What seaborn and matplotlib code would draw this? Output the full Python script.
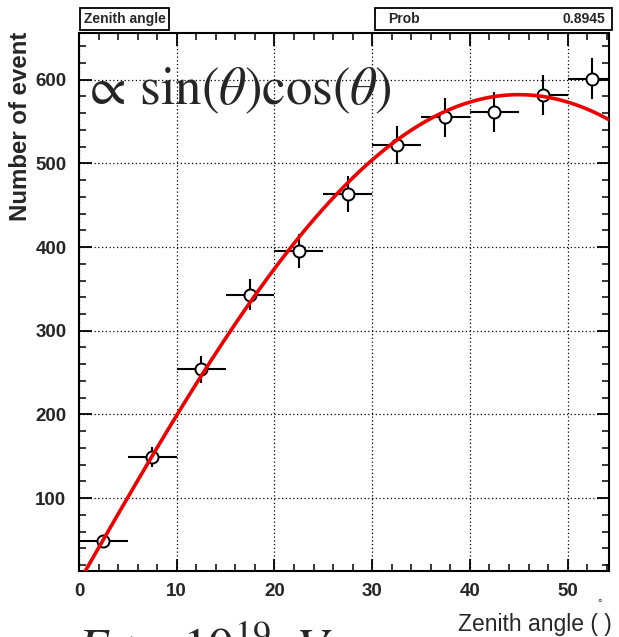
import numpy as np
import pandas as pd
import matplotlib
matplotlib.use("Agg")
import matplotlib.pyplot as plt
import seaborn as sns
from matplotlib.ticker import MultipleLocator
from matplotlib.patches import Rectangle

# ---- data ----
bin_centers = [2.5, 7.5, 12.5, 17.5, 22.5, 27.5, 32.5, 37.5, 42.5, 47.5, 52.5]
counts = [49, 149, 254, 343, 395, 463, 522, 555, 561, 582, 601]
count_errors = [7, 12, 16, 18.5, 20, 21.5, 23, 23.5, 23.7, 24, 24.5]
bin_half_width = [2.5] * 11
fit_amplitude = 582.0  # peak of A*sin(theta)cos(theta) fit
prob_value = "0.8945"
x_limits = (0, 54.2)
y_limits = (13, 656)
x_major_ticks = [0, 10, 20, 30, 40, 50]
y_major_ticks = [100, 200, 300, 400, 500, 600]

df = pd.DataFrame({"angle": bin_centers, "events": counts})
theta = np.linspace(0.0, x_limits[1], 400)
fit_df = pd.DataFrame({"angle": theta,
                       "events": fit_amplitude * np.sin(2 * np.radians(theta))})

sns.set_theme(style="white")
plt.rcParams["font.family"] = ["Liberation Sans", "DejaVu Sans"]
plt.rcParams["mathtext.fontset"] = "stix"

W, H = 619, 637
fig = plt.figure(figsize=(W / 100, H / 100), dpi=100)
ax = fig.add_axes([79 / W, 1 - 571 / H, (608.7 - 79) / W, (571 - 32.7) / H])

ax.errorbar(bin_centers, counts, xerr=bin_half_width, yerr=count_errors,
            fmt="none", ecolor="black", elinewidth=1.5, capsize=0, zorder=3)
sns.scatterplot(data=df, x="angle", y="events", ax=ax, marker="o", s=75,
                facecolor="white", edgecolor="black", linewidth=1.4, zorder=4,
                legend=False)
sns.lineplot(data=fit_df, x="angle", y="events", ax=ax, color="#ee0000",
             linewidth=2.6, zorder=5, legend=False)

ax.set_xlim(*x_limits)
ax.set_ylim(*y_limits)
ax.set_xticks(x_major_ticks)
ax.set_yticks(y_major_ticks)
ax.xaxis.set_minor_locator(MultipleLocator(2))
ax.yaxis.set_minor_locator(MultipleLocator(20))
ax.tick_params(which="both", direction="in", top=True, right=True,
               bottom=True, left=True, color="black")
ax.tick_params(which="major", length=9, width=1.3, labelsize=13.5, pad=9)
ax.tick_params(which="minor", length=5, width=1.1)
for lab in ax.get_xticklabels() + ax.get_yticklabels():
    lab.set_fontweight("bold")
ax.grid(True, which="major", color="black", linestyle=(0, (1, 2)), linewidth=0.9)
for sp in ax.spines.values():
    sp.set_visible(True)
    sp.set_color("black")
    sp.set_linewidth(1.5)
ax.set_xlabel("")
ax.set_ylabel("")

# axis titles
fig.text(21 / W, 1 - 32 / H, "Number of event", rotation=90, ha="center", va="top",
         fontsize=17.3, fontweight="bold")
fig.text(612 / W, 1 - 631 / H, "Zenith angle ( )", ha="right", va="baseline",
         fontsize=16.5)
fig.text(600 / W, 1 - 603 / H, "°", ha="center", va="center", fontsize=8)

# formula annotation
fig.text(82 / W, 1 - 104 / H, r"$\propto\,\sin(\theta)\cos(\theta)$", ha="left",
         va="baseline", fontsize=38)
fig.text(76 / W, 1 - 665 / H, r"$E\ >\ 10^{19}eV$", ha="left", va="baseline",
         fontsize=37)

# title box and stats box
def box(x0, y0, x1, y1):
    fig.add_artist(Rectangle((x0 / W, 1 - y1 / H), (x1 - x0) / W, (y1 - y0) / H,
                             transform=fig.transFigure, facecolor="white",
                             edgecolor="black", linewidth=1.3))

box(80, 8, 169, 30)
fig.text(84 / W, 1 - 19 / H, "Zenith angle", ha="left", va="center", fontsize=10,
         fontweight="bold")
box(375, 8, 612, 30)
fig.text(388 / W, 1 - 19 / H, "Prob", ha="left", va="center", fontsize=10,
         fontweight="bold")
fig.text(605 / W, 1 - 19 / H, prob_value, ha="right", va="center", fontsize=10,
         fontweight="bold")

fig.savefig("out.png", dpi=100, facecolor="white")
